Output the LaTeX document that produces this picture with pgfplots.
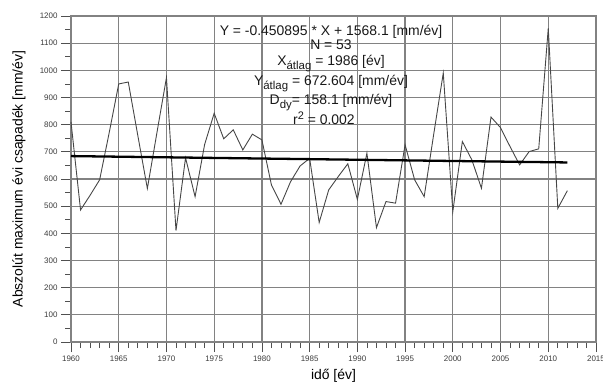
\documentclass[border=0pt]{standalone}
\usepackage{pgfplots}
\pgfplotsset{compat=1.18}
\usepackage{fontspec}
\setmainfont{Liberation Sans}
\definecolor{gridc}{RGB}{130,130,130}
\definecolor{tickc}{RGB}{80,80,80}
\definecolor{datac}{RGB}{70,70,70}
\definecolor{labc}{RGB}{60,60,60}
\pgfplotstableread{
year val
1960 810
1961 486
1962 540
1963 597
1964 770
1965 950
1966 957
1967 760
1968 565
1969 770
1970 973
1971 410
1972 678
1973 535
1974 727
1975 842
1976 748
1977 781
1978 707
1979 765
1980 744
1981 578
1982 507
1983 590
1984 648
1985 676
1986 440
1987 560
1988 609
1989 656
1990 525
1991 695
1992 421
1993 517
1994 511
1995 726
1996 597
1997 535
1998 765
1999 990
2000 480
2001 738
2002 670
2003 566
2004 828
2005 789
2006 719
2007 652
2008 701
2009 711
2010 1155
2011 492
2012 557
}\datatable
\begin{document}
\begin{tikzpicture}
\begin{axis}[
  at={(0,0)}, anchor=south west,
  scale only axis, width=525bp, height=326bp,
  xmin=1960, xmax=2015, ymin=0, ymax=1200,
  xtick={1960,1965,...,2015}, ytick={0,100,...,1200},
  minor x tick num=4, minor y tick num=1,
  tick pos=left,
  tick align=outside, major tick length=10bp, minor tick length=6bp,
  grid=major,
  grid style={draw=gridc, line width=1.2pt},
  axis line style={draw=gridc, line width=1.2pt},
  tick style={draw=tickc, line width=0.8pt},
  /pgf/number format/assume math mode=true,
  /pgf/number format/set thousands separator={},
  tick label style={font=\fontsize{8}{9}\selectfont, text=labc},
  xlabel={idő [év]},
  ylabel={Abszolút maximum évi csapadék [mm/év]},
  xlabel style={at={(axis description cs:0.5,-0.104)}, anchor=center, font=\fontsize{14}{16}\selectfont},
  ylabel style={at={(axis description cs:-0.099,0.5)}, anchor=center, font=\fontsize{14}{16}\selectfont},
  clip=false,
]
\addplot[datac, line width=0.9pt] table[x=year, y=val] {\datatable};
\addplot[black, line width=2.3pt] coordinates {(1960,684.35) (2012,660.9)};
\begin{scope}[every node/.style={anchor=base, font=\fontsize{14}{16}\selectfont, inner sep=0pt, text=black!90}]
\node at (axis cs:1987.24,1130) {Y = -0.450895 * X + 1568.1 [mm/év]};
\node at (axis cs:1987.24,1075) {N = 53};
\node at (axis cs:1987.24,1016) {X\raisebox{-4bp}{\fontsize{11.5}{12}\selectfont átlag} = 1986 [év]};
\node at (axis cs:1987.24,946) {Y\raisebox{-4bp}{\fontsize{11.5}{12}\selectfont átlag} = 672.604 [mm/év]};
\node at (axis cs:1987.24,876) {D\raisebox{-4bp}{\fontsize{11.5}{12}\selectfont dy}= 158.1 [mm/év]};
\node at (axis cs:1986.5,799) {r\raisebox{5bp}{\fontsize{11}{12}\selectfont 2} = 0.002};
\end{scope}
\end{axis}
\pgfresetboundingbox
\path[use as bounding box] (-71bp,-43bp) rectangle (532bp,342bp);
\end{tikzpicture}
\end{document}
